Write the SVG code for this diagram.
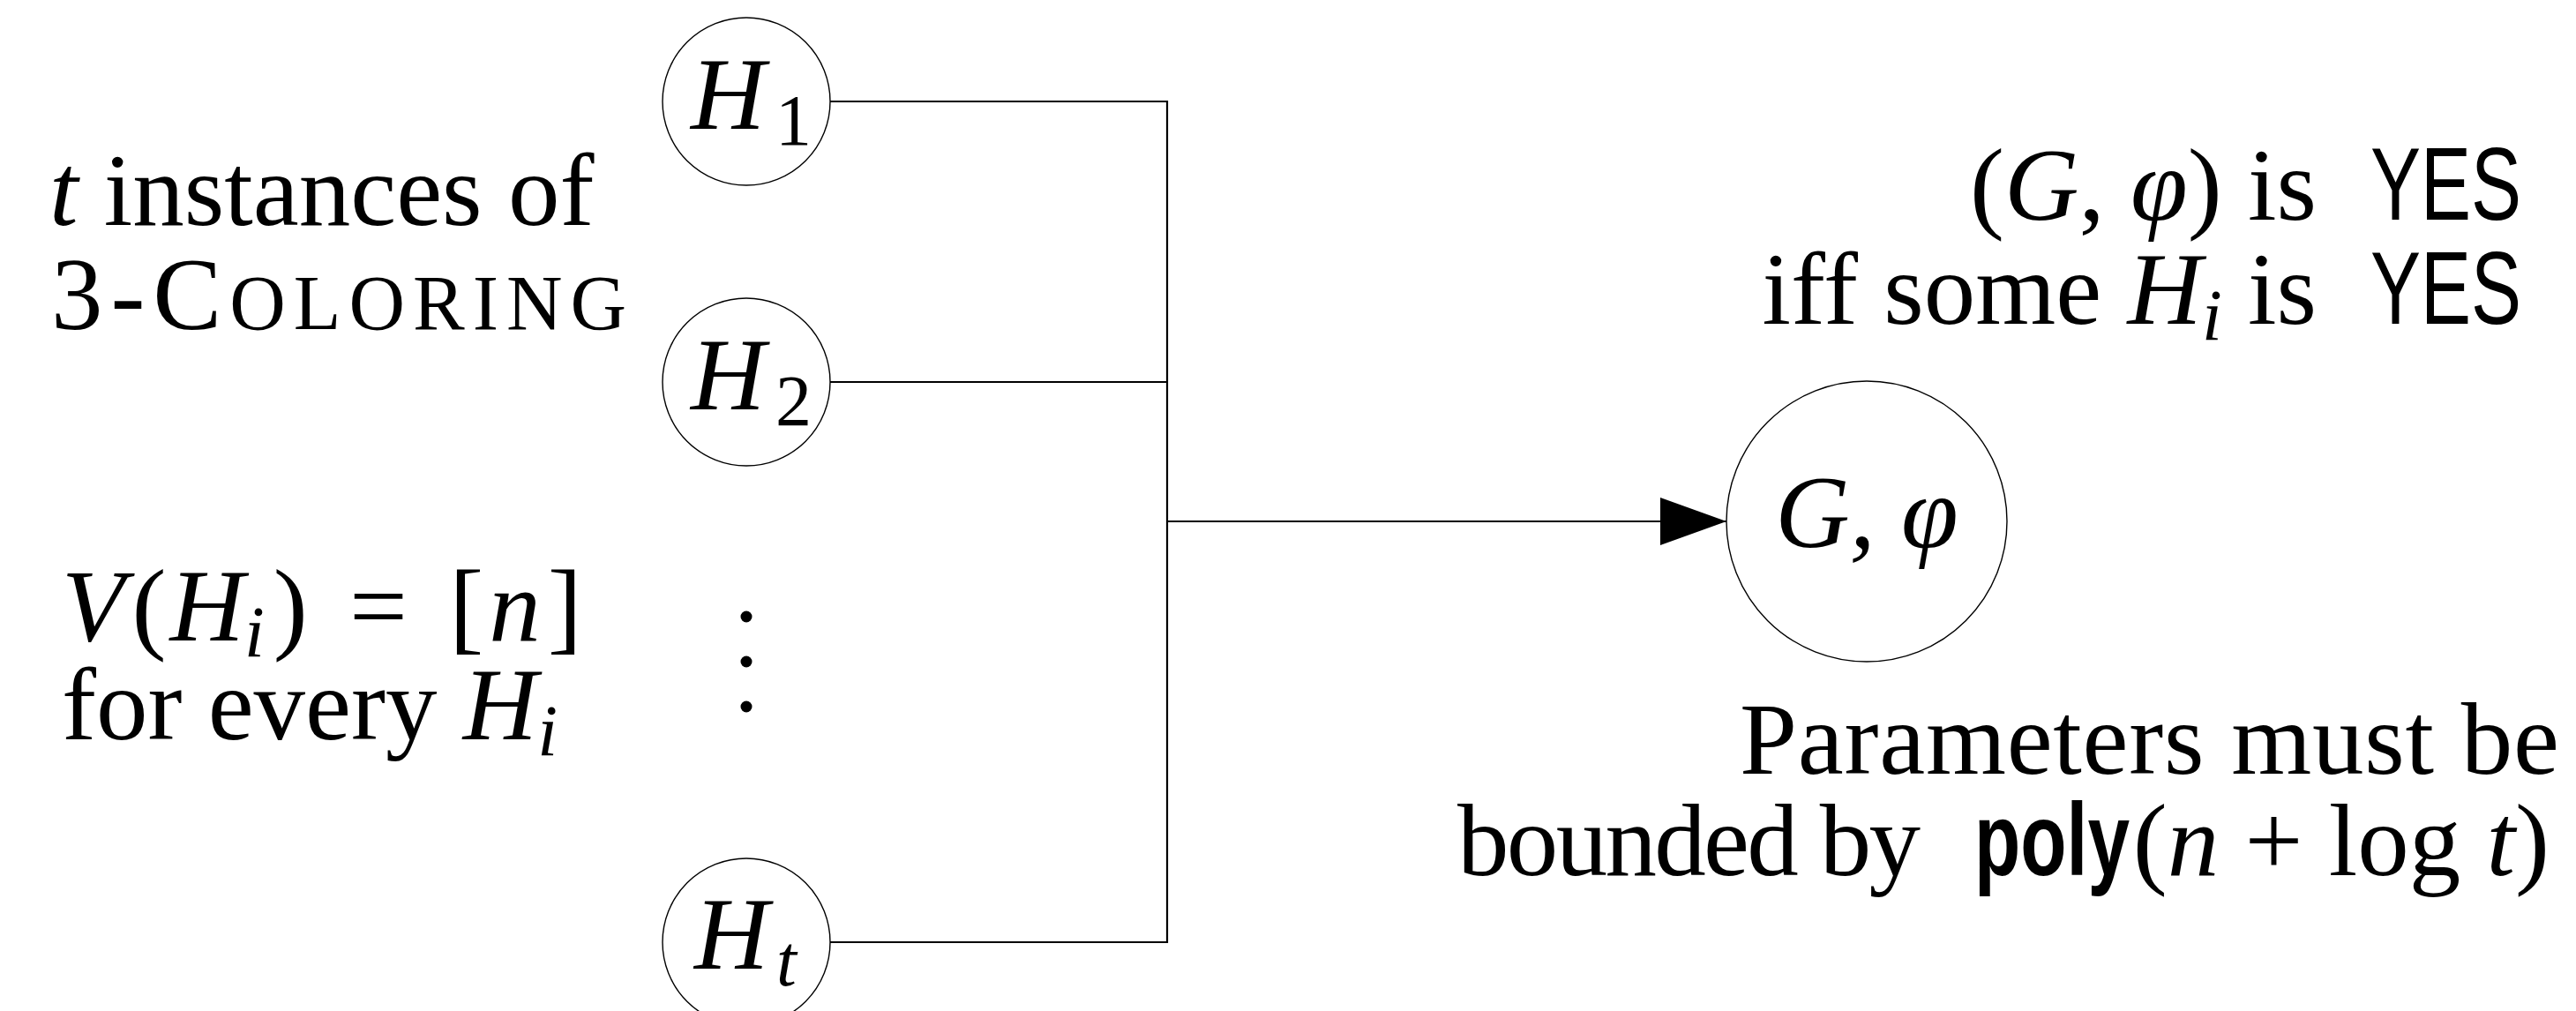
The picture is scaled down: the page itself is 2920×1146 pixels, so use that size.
<svg xmlns="http://www.w3.org/2000/svg" width="2920" height="1146" viewBox="0 0 2920 1146">
<style>
.serif{font-family:"Liberation Serif","DejaVu Serif",serif;font-size:117px;fill:#000}
.it{font-style:italic}
.sans{font-family:"Liberation Sans","DejaVu Sans",sans-serif}
.node{fill:#fff;stroke:#000;stroke-width:1.4}
.conn{fill:none;stroke:#000;stroke-width:2.2}
.sub{font-size:82px}
</style>
<defs>
<marker id="arrow" markerUnits="userSpaceOnUse" markerWidth="80" markerHeight="60" refX="75" refY="27" orient="auto">
<path d="M0,0 L75,27 L0,54 Z" fill="#000"/>
</marker>
</defs>
<rect width="2920" height="1146" fill="#fff"/>
<g id="connectors">
<path class="conn" d="M941,115 H1323 V1068 H941"/>
<path class="conn" d="M941,433 H1323"/>
<path class="conn" d="M1323,591 H1957" marker-end="url(#arrow)"/>
</g>
<g id="node-H1">
<circle class="node" cx="846" cy="115" r="95"/>
<text class="serif" x="783" y="146"><tspan class="it">H</tspan><tspan class="sub" x="879" y="164">1</tspan></text>
</g>
<g id="node-H2">
<circle class="node" cx="846" cy="433" r="95"/>
<text class="serif" x="783" y="464"><tspan class="it">H</tspan><tspan class="sub" x="879" y="482">2</tspan></text>
</g>
<g id="node-Ht">
<circle class="node" cx="846" cy="1068" r="95"/>
<text class="serif" x="787" y="1098"><tspan class="it">H</tspan><tspan class="sub it" x="880" y="1117">t</tspan></text>
</g>
<g id="dots">
<circle cx="846" cy="699" r="6.5"/>
<circle cx="846" cy="750" r="6.5"/>
<circle cx="846" cy="801" r="6.5"/>
</g>
<g id="node-G">
<circle class="node" cx="2116" cy="591" r="159"/>
<text class="serif it" x="2116" y="620" text-anchor="middle">G, φ</text>
</g>
<g id="label-left-top">
<text class="serif" x="56" y="255"><tspan class="it">t</tspan> instances of</text>
<text class="serif" x="58" y="373" textLength="652" lengthAdjust="spacing">3-C<tspan font-size="88px">OLORING</tspan></text>
</g>
<g id="label-left-bottom">
<text class="serif" x="70" y="726"><tspan class="it">V</tspan><tspan dx="8">(</tspan><tspan class="it" dx="4">H</tspan><tspan class="sub it" dy="18">i</tspan><tspan dy="-18" dx="10">)</tspan><tspan dx="18"> = </tspan><tspan dx="18">[</tspan><tspan class="it" dx="6">n</tspan><tspan dx="8">]</tspan></text>
<text class="serif" x="70" y="838">for every <tspan class="it">H</tspan><tspan class="sub it" dy="18">i</tspan></text>
</g>
<g id="label-right-top">
<text class="serif" x="2626" y="249" text-anchor="end">(<tspan class="it">G</tspan>, <tspan class="it">φ</tspan>) is</text>
<text class="serif sans" x="2687" y="249" font-size="110" textLength="171" lengthAdjust="spacingAndGlyphs">YES</text>
<text class="serif" x="2626" y="367" text-anchor="end">iff some <tspan class="it">H</tspan><tspan class="sub it" dy="18">i</tspan><tspan dy="-18"> is</tspan></text>
<text class="serif sans" x="2687" y="367" font-size="110" textLength="171" lengthAdjust="spacingAndGlyphs">YES</text>
</g>
<g id="label-right-bottom">
<text class="serif" x="1972" y="877" textLength="929" lengthAdjust="spacing">Parameters must be</text>
<text class="serif" x="1652" y="992" textLength="525" lengthAdjust="spacing">bounded by</text>
<text class="serif sans" x="2238" y="992" font-size="112" font-weight="bold" textLength="176" lengthAdjust="spacingAndGlyphs">poly</text>
<text class="serif" x="2890" y="992" text-anchor="end">(<tspan class="it">n</tspan> + log <tspan class="it">t</tspan>)</text>
</g>
</svg>
